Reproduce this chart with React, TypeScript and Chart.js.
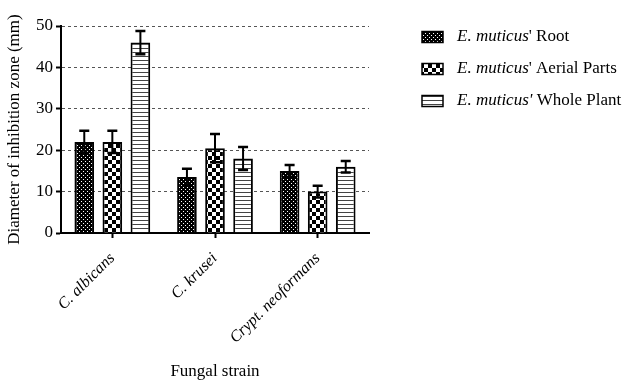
import React, { useEffect, useRef } from 'react';
import { Chart, registerables } from 'chart.js';

Chart.register(...registerables);

const categories = ['C. albicans', 'C. krusei', 'Crypt. neoformans'];
const seriesLabels = ["E. muticus' Root", "E. muticus' Aerial Parts", "E. muticus' Whole Plant"];
const legendItalicParts = ['E. muticus', 'E. muticus', "E. muticus'"];
const legendPlainParts = ["' Root", "' Aerial Parts", ' Whole Plant'];
const rootValues = [22, 13.5, 15];
const rootErrors = [2.7, 2, 1.4];
const aerialValues = [22, 20.5, 10];
const aerialErrors = [2.7, 3.4, 1.4];
const wholeValues = [46, 18, 16];
const wholeErrors = [2.8, 2.8, 1.4];
const yAxisTitle = 'Diameter of inhibition zone (mm)';
const xAxisTitle = 'Fungal strain';
const yMin = 0;
const yMax = 50;
const yStep = 10;

const SERIF = '"Liberation Serif", "Times New Roman", serif';

function makePattern(kind: string): CanvasPattern | string {
  const c = document.createElement('canvas');
  const ctx = c.getContext('2d');
  if (!ctx) return '#000';
  if (kind === 'dots') {
    c.width = 4; c.height = 4;
    ctx.fillStyle = '#000';
    ctx.fillRect(0, 0, 4, 4);
    ctx.fillStyle = '#fff';
    ctx.fillRect(1, 1, 1, 1);
    ctx.fillRect(3, 3, 1, 1);
  } else if (kind === 'checker') {
    c.width = 8; c.height = 8;
    ctx.fillStyle = '#000';
    ctx.fillRect(0, 0, 8, 8);
    ctx.fillStyle = '#fff';
    ctx.fillRect(0, 0, 4, 4);
    ctx.fillRect(4, 4, 4, 4);
  } else {
    c.width = 4; c.height = 4;
    ctx.fillStyle = '#fff';
    ctx.fillRect(0, 0, 4, 4);
    ctx.fillStyle = '#444';
    ctx.fillRect(0, 0, 4, 1);
  }
  const p = ctx.createPattern(c, 'repeat');
  return p || '#000';
}

export default function App() {
  const ref = useRef<HTMLCanvasElement | null>(null);

  useEffect(() => {
    if (!ref.current) return;
    const patterns = [makePattern('dots'), makePattern('checker'), makePattern('lines')];
    const errors = [rootErrors, aerialErrors, wholeErrors];

    const errorBarPlugin = {
      id: 'errorBars',
      afterDatasetsDraw(chart: any) {
        const ctx = chart.ctx;
        const y = chart.scales.y;
        ctx.save();
        ctx.strokeStyle = '#000';
        chart.data.datasets.forEach((ds: any, i: number) => {
          const meta = chart.getDatasetMeta(i);
          meta.data.forEach((el: any, j: number) => {
            const v = ds.data[j];
            const e = errors[i][j];
            const yt = y.getPixelForValue(v + e);
            const yb = y.getPixelForValue(v - e);
            ctx.lineWidth = 2;
            ctx.beginPath();
            ctx.moveTo(el.x, yt);
            ctx.lineTo(el.x, yb);
            ctx.stroke();
            ctx.lineWidth = 2.5;
            ctx.beginPath();
            ctx.moveTo(el.x - 5, yt);
            ctx.lineTo(el.x + 5, yt);
            ctx.moveTo(el.x - 5, yb);
            ctx.lineTo(el.x + 5, yb);
            ctx.stroke();
          });
        });
        ctx.restore();
      },
    };

    const legendPlugin = {
      id: 'customLegend',
      afterDraw(chart: any) {
        const ctx = chart.ctx;
        ctx.save();
        const boxX = 422;
        const boxW = 21;
        const boxH = 11;
        const textX = 457;
        const rowY = [37, 69, 101];
        seriesLabels.forEach((_, i) => {
          const cy = rowY[i];
          ctx.fillStyle = patterns[i];
          ctx.fillRect(boxX, cy - boxH / 2, boxW, boxH);
          ctx.strokeStyle = '#000';
          ctx.lineWidth = 1.5;
          ctx.strokeRect(boxX, cy - boxH / 2, boxW, boxH);
          ctx.fillStyle = '#000';
          ctx.textBaseline = 'middle';
          ctx.textAlign = 'left';
          ctx.font = 'italic 17px ' + SERIF;
          ctx.fillText(legendItalicParts[i], textX, cy);
          const w = ctx.measureText(legendItalicParts[i]).width;
          ctx.font = '17px ' + SERIF;
          ctx.fillText(legendPlainParts[i], textX + w, cy);
        });
        ctx.restore();
      },
    };

    const chart = new Chart(ref.current, {
      type: 'bar',
      data: {
        labels: categories,
        datasets: [
          { label: seriesLabels[0], data: rootValues, backgroundColor: patterns[0] as any, borderColor: '#000', borderWidth: 2 },
          { label: seriesLabels[1], data: aerialValues, backgroundColor: patterns[1] as any, borderColor: '#000', borderWidth: 2 },
          { label: seriesLabels[2], data: wholeValues, backgroundColor: patterns[2] as any, borderColor: '#000', borderWidth: 2 },
        ],
      },
      options: {
        responsive: false,
        animation: false,
        categoryPercentage: 0.82,
        barPercentage: 0.7,
        layout: { padding: { left: 0, top: 26, right: 267, bottom: 0 } },
        plugins: { legend: { display: false }, tooltip: { enabled: false } },
        scales: {
          x: {
            afterFit(scale: any) { scale.height = 147; },
            grid: {
              drawOnChartArea: false,
              drawTicks: true,
              tickLength: 5,
              tickColor: '#000',
              tickWidth: 2,
              offset: false,
            },
            border: { color: '#000', width: 2 },
            ticks: {
              color: '#000',
              font: { family: SERIF, size: 16, style: 'italic' },
              maxRotation: 45,
              minRotation: 45,
              padding: 11,
            },
            title: {
              display: true,
              text: xAxisTitle,
              color: '#000',
              font: { family: SERIF, size: 17, lineHeight: 1 },
              padding: { top: 0, bottom: 0 },
            },
          },
          y: {
            min: yMin,
            max: yMax,
            afterFit(scale: any) { scale.width = 61; },
            ticks: {
              stepSize: yStep,
              color: '#000',
              font: { family: SERIF, size: 17 },
              padding: 3,
            },
            grid: {
              color: (c: any) => (c.tick && c.tick.value === 0 ? 'rgba(0,0,0,0)' : '#555'),
              lineWidth: 1,
              tickColor: '#000',
              tickWidth: 2,
              tickLength: 5,
              tickBorderDash: [],
            },
            border: { color: '#000', width: 2, dash: [3, 3] },
            title: {
              display: true,
              text: yAxisTitle,
              color: '#000',
              font: { family: SERIF, size: 17, lineHeight: 1.2 },
              padding: { top: 4, bottom: 0 },
            },
          },
        },
      },
      plugins: [errorBarPlugin, legendPlugin],
    } as any);

    return () => chart.destroy();
  }, []);

  return (
    <div style={{ position: 'fixed', left: 0, top: 0, width: 636, height: 380, background: '#fff' }}>
      <canvas ref={ref} width={636} height={380} />
    </div>
  );
}
